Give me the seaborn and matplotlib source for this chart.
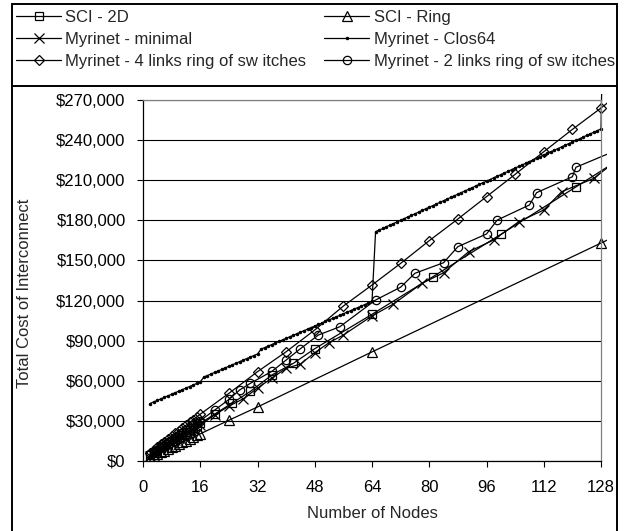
import numpy as np
import matplotlib
matplotlib.use("Agg")
import matplotlib.pyplot as plt
import seaborn as sns
from matplotlib.patches import Rectangle
from matplotlib.lines import Line2D
from matplotlib.ticker import FuncFormatter

# ---------------- data (cost in thousands of $) ----------------
SCI2D_N = [2, 3, 4, 5, 6, 7, 8, 9, 10, 11, 12, 13, 14, 15, 16, 20, 25, 30, 36, 42, 48, 64, 81, 100, 121, 144]
SCI2D_K = [4.5, 6.0, 7.8, 9.5, 11.2, 12.9, 14.6, 16.3, 18.0, 19.7, 21.4, 23.1, 24.8, 26.5, 28.2,
           35.0, 43.5, 52.0, 64.3, 73.0, 84.0, 109.7, 137.8, 169.5, 205.0, 244.0]

RING_N = [2, 3, 4, 5, 6, 7, 8, 9, 10, 11, 12, 13, 14, 15, 16, 24, 32, 64, 128, 136]
RING_K = [2.5, 3.8, 5.1, 6.4, 7.6, 8.9, 10.2, 11.4, 12.7, 14.0, 15.2, 16.5, 17.8, 19.1, 20.3,
          30.5, 40.4, 81.6, 163.0, 173.2]

MIN_N = [2, 3, 4, 5, 6, 7, 8, 9, 10, 11, 12, 13, 14, 15, 16, 20, 24, 28, 32, 36, 40, 44, 48, 52, 56,
         64, 70, 78, 84, 91, 98, 105, 112, 117, 126, 132]
MIN_K = [4.0, 5.5, 7.0, 8.6, 10.2, 11.8, 13.4, 15.5, 17.1, 18.7, 20.3, 22.0, 23.6, 25.2, 26.8,
         34.5, 41.0, 46.5, 54.5, 62.0, 69.3, 72.5, 81.0, 88.5, 94.2,
         108.5, 117.4, 132.9, 140.8, 156.5, 165.3, 179.0, 187.7, 201.4, 211.4, 224.0]

CLOS_N = list(range(2, 130))
CLOS_K = [43.0, 44.2, 45.3, 46.5, 47.6, 48.8, 49.9, 51.1, 52.2, 53.4, 54.5, 55.7, 56.8, 58.0, 59.1,
          62.8, 63.9, 65.1, 66.2, 67.4, 68.5, 69.7, 70.8, 72.0, 73.1, 74.3, 75.4, 76.6, 77.7, 78.9, 80.0,
          83.7, 84.8, 86.0, 87.1, 88.3, 89.4, 90.6, 91.7, 92.9, 94.0, 95.2, 96.3, 97.5, 98.6, 99.8, 100.9,
          102.1, 103.2, 104.4, 105.5, 106.7, 107.8, 109.0, 110.1, 111.3, 112.4, 113.6, 114.7, 115.9, 117.0, 118.2, 119.3,
          171.5, 172.7, 173.9, 175.2, 176.4, 177.6, 178.8, 180.0, 181.3, 182.5, 183.7, 184.9, 186.1, 187.4, 188.6, 189.8,
          191.0, 192.2, 193.5, 194.7, 195.9, 197.1, 198.3, 199.6, 200.8, 202.0, 203.2, 204.4, 205.7, 206.9, 208.1, 209.3,
          210.5, 211.8, 213.0, 214.2, 215.4, 216.6, 217.9, 219.1, 220.3, 221.5, 222.7, 224.0, 225.2, 226.4, 227.6, 228.8,
          230.1, 231.3, 232.5, 233.7, 234.9, 236.2, 237.4, 238.6, 239.8, 241.0, 242.3, 243.5, 244.7, 245.9, 247.1, 248.4,
          400.0]

DIA_N = [2, 3, 4, 5, 6, 7, 8, 9, 10, 11, 12, 13, 14, 15, 16,
         24, 32, 40, 48, 56, 64, 72, 80, 88, 96, 104, 112, 120, 128, 136]
DIA_K = [6.0, 8.2, 10.3, 12.4, 14.4, 16.5, 18.6, 20.6, 22.6, 24.7, 26.7, 28.8, 30.8, 32.9, 35.0,
         50.6, 66.8, 81.7, 98.0, 115.9, 131.6, 147.8, 164.8, 181.0, 197.7, 214.4, 231.3, 248.0, 264.0, 281.0]

CIR_N = [2, 3, 4, 5, 6, 7, 8, 9, 10, 11, 12, 13, 14, 15, 16, 20, 24, 27, 30, 36, 40, 44, 49, 55,
         65, 72, 76, 84, 88, 96, 99, 108, 110, 120, 121, 132]
CIR_K = [5.0, 6.8, 8.6, 10.4, 12.2, 14.0, 15.8, 17.6, 19.4, 21.2, 23.0, 24.8, 26.6, 28.4, 30.2,
         38.0, 46.0, 53.1, 58.1, 67.0, 75.5, 84.0, 94.2, 100.4,
         120.4, 130.0, 140.4, 148.3, 160.3, 169.8, 180.2, 191.5, 200.7, 212.6, 219.7, 232.0]

LABELS = ["SCI - 2D", "SCI - Ring", "Myrinet - minimal", "Myrinet - Clos64",
          "Myrinet - 4 links ring of sw itches", "Myrinet - 2 links ring of sw itches"]
X_TICKS = [0, 16, 32, 48, 64, 80, 96, 112, 128]
Y_TICKS = [0, 30000, 60000, 90000, 120000, 150000, 180000, 210000, 240000, 270000]

# ---------------- style ----------------
sns.set_theme(style="white")
plt.rcParams["font.family"] = ["Liberation Sans", "DejaVu Sans"]

W, H = 624, 531
fig = plt.figure(figsize=(W / 100, H / 100), dpi=100)
ax = fig.add_axes([143 / W, 1 - 461 / H, (601 - 143) / W, (461 - 100) / H])

series = [
    (SCI2D_N, SCI2D_K, "s", 5.5),
    (RING_N, RING_K, "^", 7.0),
    (MIN_N, MIN_K, "x", 7.0),
    (CLOS_N, CLOS_K, "o", 1.6),
    (DIA_N, DIA_K, "D", 4.6),
    (CIR_N, CIR_K, "o", 6.0),
]

handles = []
for (xs, ks, mk, ms), lab in zip(series, LABELS):
    n_before = len(ax.lines)
    filled = (lab == "Myrinet - Clos64")
    sns.lineplot(x=np.array(xs), y=np.array(ks) * 1000.0, ax=ax, color="black",
                 linewidth=0.9, marker=mk, markersize=ms,
                 markerfacecolor="black" if filled else "none",
                 markeredgecolor="black", markeredgewidth=0.9,
                 estimator=None, sort=False, legend=False)
    handles.append(ax.lines[n_before])

# lines run slightly past the plot edge, like the original
for ln in ax.lines:
    ln.set_clip_path(Rectangle((0, 0), 1 + 6 / 458, 1 + 6 / 361, transform=ax.transAxes))

ax.set_xlim(0, 128)
ax.set_ylim(0, 270000)
ax.set_xticks(X_TICKS)
ax.set_yticks(Y_TICKS)
ax.yaxis.set_major_formatter(FuncFormatter(lambda v, p: "${:,.0f}".format(v)))
ax.set_xlabel("")
ax.set_ylabel("")
ax.yaxis.grid(True, color="black", linewidth=0.8)
ax.xaxis.grid(False)
ax.set_axisbelow(True)
ax.tick_params(axis="both", which="both", direction="out", length=4.5, width=0.8,
               colors="black", labelsize=12, bottom=True, left=True)
ax.tick_params(axis="y", pad=8)
ax.tick_params(axis="x", pad=9)
for side in ["left", "bottom"]:
    ax.spines[side].set_color("black")
    ax.spines[side].set_linewidth(0.9)
for side in ["top", "right"]:
    ax.spines[side].set_color("#808080")
    ax.spines[side].set_linewidth(0.9)

fig.text(372 / W, 1 - 513 / H, "Number of Nodes", ha="center", va="center", fontsize=12)
fig.text(25 / W, 1 - 293 / H, "Total Cost of Interconnect", ha="center", va="center",
         rotation=90, fontsize=12)

order = [0, 2, 4, 1, 3, 5]
fig.legend([handles[i] for i in order], [LABELS[i] for i in order], ncol=2,
           loc="upper left", bbox_to_anchor=(16 / W, 1 - 10 / H), frameon=False,
           borderpad=0, borderaxespad=0, handlelength=2.7, handletextpad=0.25,
           columnspacing=1.1, labelspacing=0.42, fontsize=12, numpoints=1)

# chart frame and legend separator
fig.add_artist(Rectangle((12 / W, -0.05), (617 - 12) / W, 1.05 - 4 / H,
                         transform=fig.transFigure, fill=False, edgecolor="black", linewidth=1.4))
fig.add_artist(Line2D([12 / W, 617 / W], [1 - 86 / H, 1 - 86 / H],
                      transform=fig.transFigure, color="black", linewidth=1.4))

fig.savefig("out.png", dpi=100)
